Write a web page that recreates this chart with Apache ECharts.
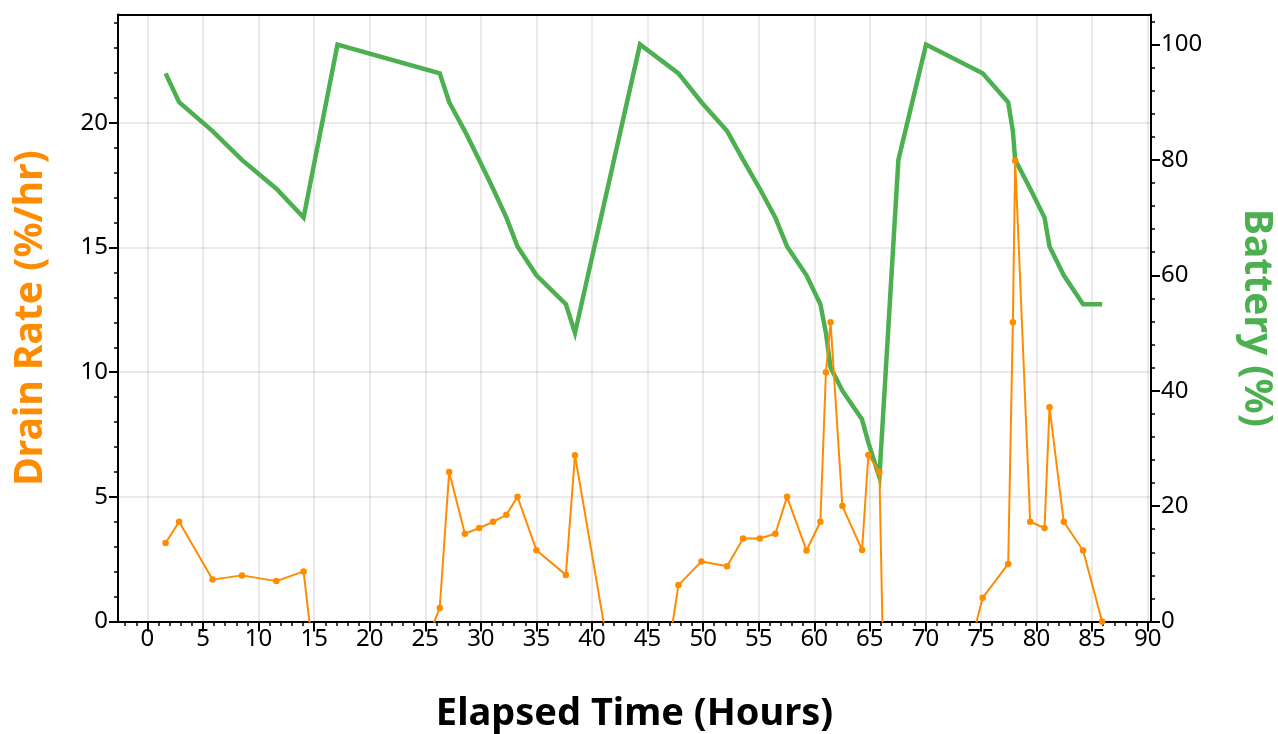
<!DOCTYPE html>
<html>
<head>
<meta charset="utf-8">
<script src="https://cdn.jsdelivr.net/npm/echarts@6/dist/echarts.min.js"></script>
<style>
html,body{margin:0;padding:0;background:#fff;}
#chart{width:1278px;height:734px;}
</style>
</head>
<body>
<div id="chart"></div>
<script>
// Elapsed time of each reading (hours)
const hours = [1.63, 2.85, 5.86, 8.5, 11.6, 14.05, 17.1, 26.3, 27.15, 28.56, 29.85, 31.1, 32.3, 33.3, 35.0, 37.65, 38.47,
  44.32, 47.78, 49.85, 52.16, 53.6, 55.1, 56.5, 57.55, 59.3, 60.55, 61.05, 61.47, 62.53, 64.3, 64.87, 65.86,
  67.57, 70.06, 75.15, 77.45, 77.87, 78.08, 79.43, 80.72, 81.17, 82.45, 84.19, 85.9];
// Battery level (%)
const batteryPct = [95, 90, 85, 80, 75, 70, 100, 95, 90, 85, 80, 75, 70, 65, 60, 55, 50,
  100, 95, 90, 85, 80, 75, 70, 65, 60, 55, 50, 44, 40, 35, 31, 25,
  80, 100, 95, 90, 85, 80, 75, 70, 65, 60, 55, 55];
// Drain rate (%/hr); negative while charging (clipped by the axis)
const drainRate = [3.15, 4.0, 1.68, 1.85, 1.62, 2.01, -9.8, 0.54, 6.0, 3.52, 3.75, 4.0, 4.28, 5.0, 2.86, 1.87, 6.67,
  -8.55, 1.46, 2.41, 2.22, 3.33, 3.33, 3.52, 5.0, 2.85, 4.0, 10.0, 12.0, 4.63, 2.87, 6.68, 6.0,
  -32, -8.0, 0.95, 2.31, 12.0, 18.48, 4.0, 3.75, 8.59, 4.0, 2.85, 0];

const xTickLabels = [0, 5, 10, 15, 20, 25, 30, 35, 40, 45, 50, 55, 60, 65, 70, 75, 80, 85, 90];
const leftTickLabels = [0, 5, 10, 15, 20];
const rightTickLabels = [0, 20, 40, 60, 80, 100];
const xMinorTicks = []; for (let v = -2; v <= 90; v++) xMinorTicks.push(v);
const leftMinorTicks = []; for (let v = 0; v <= 24; v++) leftMinorTicks.push(v);
const rightMinorTicks = []; for (let v = 0; v <= 104; v += 4) rightMinorTicks.push(v);

const X_MIN = -2.65, X_MAX = 90.3, L_MAX = 24.35, R_MAX = 105.2;
const FONT = 'Noto Sans';
const lineStyleAxis = { color: '#000', width: 2 };
const gridLine = { show: true, lineStyle: { color: 'rgba(0,0,0,0.11)', width: 1.5 } };
const labelStyle = { color: '#000', fontSize: 24, fontFamily: FONT };

const chart = echarts.init(document.getElementById('chart'), null, { renderer: 'canvas' });
chart.setOption({
  animation: false,
  backgroundColor: '#fff',
  grid: { left: 118, right: 127, top: 14.5, bottom: 112.5, containLabel: false, outerBoundsMode: 'none' },
  xAxis: [
    {
      type: 'value', position: 'bottom', min: X_MIN, max: X_MAX,
      name: 'Elapsed Time (Hours)', nameLocation: 'middle', nameGap: 74,
      nameTextStyle: { color: '#000', fontSize: 38, fontWeight: 'bold', fontFamily: FONT },
      axisLine: { show: true, onZero: false, lineStyle: lineStyleAxis },
      axisTick: { show: true, customValues: xTickLabels, length: 10, lineStyle: { color: '#000', width: 2 } },
      axisLabel: { show: true, customValues: xTickLabels, margin: 6, ...labelStyle },
      splitLine: gridLine
    },
    {
      type: 'value', position: 'bottom', min: X_MIN, max: X_MAX,
      axisLine: { show: false, onZero: false },
      axisTick: { show: true, customValues: xMinorTicks, length: 4.5, lineStyle: { color: '#000', width: 1.5 } },
      axisLabel: { show: false },
      splitLine: { show: false }
    },
    {
      type: 'value', position: 'top', min: X_MIN, max: X_MAX,
      axisLine: { show: true, onZero: false, lineStyle: lineStyleAxis },
      axisTick: { show: false }, axisLabel: { show: false }, splitLine: { show: false }
    }
  ],
  yAxis: [
    {
      type: 'value', position: 'left', min: 0, max: L_MAX,
      name: 'Drain Rate (%/hr)', nameLocation: 'middle', nameGap: 68, nameRotate: 90,
      nameTextStyle: { color: '#FF8C00', fontSize: 39, fontWeight: 'bold', fontFamily: FONT },
      axisLine: { show: true, onZero: false, lineStyle: lineStyleAxis },
      axisTick: { show: true, customValues: leftTickLabels, length: 9, lineStyle: { color: '#000', width: 2 } },
      axisLabel: { show: true, customValues: leftTickLabels, margin: 10, ...labelStyle },
      splitLine: gridLine
    },
    {
      type: 'value', position: 'right', min: 0, max: R_MAX,
      name: 'Battery (%)', nameLocation: 'middle', nameGap: 86, nameRotate: -90,
      nameTextStyle: { color: '#4CAF50', fontSize: 39, fontWeight: 'bold', fontFamily: FONT },
      axisLine: { show: true, onZero: false, lineStyle: lineStyleAxis },
      axisTick: { show: true, customValues: rightTickLabels, length: 9, lineStyle: { color: '#000', width: 2 } },
      axisLabel: { show: true, customValues: rightTickLabels, margin: 10, ...labelStyle },
      splitLine: { show: false }
    },
    {
      type: 'value', position: 'left', min: 0, max: L_MAX,
      axisLine: { show: false, onZero: false },
      axisTick: { show: true, customValues: leftMinorTicks, length: 4, lineStyle: { color: '#000', width: 1.5 } },
      axisLabel: { show: false }, splitLine: { show: false }
    },
    {
      type: 'value', position: 'right', min: 0, max: R_MAX,
      axisLine: { show: false, onZero: false },
      axisTick: { show: true, customValues: rightMinorTicks, length: 4, lineStyle: { color: '#000', width: 1.5 } },
      axisLabel: { show: false }, splitLine: { show: false }
    }
  ],
  series: [
    {
      name: 'Battery', type: 'line', xAxisIndex: 0, yAxisIndex: 1, z: 2,
      data: hours.map((h, i) => [h, batteryPct[i]]),
      showSymbol: false, symbol: 'none',
      lineStyle: { color: '#4CAF50', width: 4.5, join: 'miter' },
      itemStyle: { color: '#4CAF50' }
    },
    {
      name: 'Drain Rate', type: 'line', xAxisIndex: 0, yAxisIndex: 0, z: 3,
      data: hours.map((h, i) => [h, drainRate[i]]),
      symbol: 'circle', symbolSize: 6.5, showSymbol: true, showAllSymbol: true,
      lineStyle: { color: '#FF8C00', width: 2 },
      itemStyle: { color: '#FF8C00' },
      clip: true
    }
  ]
});
</script>
</body>
</html>
